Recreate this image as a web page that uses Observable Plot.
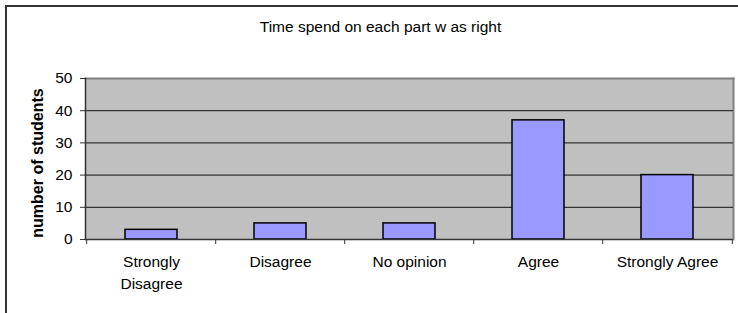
<!DOCTYPE html>
<html>
<head>
<meta charset="utf-8">
<script src="https://cdn.jsdelivr.net/npm/d3@7"></script>
<script src="https://cdn.jsdelivr.net/npm/@observablehq/plot@0.6"></script>
<style>
  html, body { margin: 0; padding: 0; background: #fff; overflow: hidden; }
  #wrap { position: relative; width: 738px; height: 313px; }
  #border { position: absolute; left: 5px; top: 5px; width: 800px; height: 400px; border: 2px solid #333; box-sizing: border-box; }
  #chart { position: absolute; left: 0; top: 0; }
</style>
</head>
<body>
<div id="wrap"><div id="border"></div><div id="chart"></div></div>
<script>
const title = "Time spend on each part w as right";
const yLabel = "number of students";
const categories = ["Strongly Disagree", "Disagree", "No opinion", "Agree", "Strongly Agree"];
const tickLabels = ["Strongly\nDisagree", "Disagree", "No opinion", "Agree", "Strongly Agree"];
const students = [3, 5, 5, 37, 20];
const yTicks = [0, 10, 20, 30, 40, 50];
const gridValues = [10, 20, 30, 40];

const data = categories.map((c, i) => ({category: c, students: students[i]}));
const labelOf = new Map(categories.map((c, i) => [c, tickLabels[i]]));

const W = 738, H = 313, mL = 85, mR = 5, mT = 78, mB = 74;
const step = (W - mL - mR) / categories.length;
const font = "'Liberation Sans', Arial, sans-serif";

const chart = Plot.plot({
  width: W, height: H,
  marginLeft: mL, marginRight: mR, marginTop: mT, marginBottom: mB,
  style: {fontFamily: font, fontSize: "15.5px", background: "transparent", overflow: "visible", color: "#000"},
  x: {domain: categories, paddingInner: 0.6, paddingOuter: 0.3, axis: null},
  y: {domain: [0, 50], axis: null},
  marks: [
    Plot.frame({fill: "#c0c0c0", stroke: "none"}),
    Plot.frame({anchor: "top", stroke: "#808080", strokeWidth: 2}),
    Plot.frame({anchor: "right", stroke: "#808080", strokeWidth: 2}),
    Plot.ruleY(gridValues, {stroke: "#111", strokeWidth: 1}),
    Plot.barY(data, {x: "category", y: "students", fill: "#9999ff", stroke: "#000", strokeWidth: 1.5}),
    Plot.frame({anchor: "left", stroke: "#333", strokeWidth: 1.5}),
    Plot.ruleY([0], {stroke: "#333", strokeWidth: 1.5}),
    Plot.axisY({ticks: yTicks, tickSize: 5, tickPadding: 8, label: null, stroke: "#333", fontSize: 15.5}),
    Plot.axisX({tickSize: 0, tickPadding: 12.5, label: null, lineHeight: 1.38, fontSize: 15.5, tickFormat: d => labelOf.get(d)}),
    Plot.ruleX(categories, {x: d => d, dx: -step / 2, y1: () => 0, y2: () => 0, insetBottom: -5, stroke: "#333"}),
    Plot.ruleX(categories.slice(-1), {x: d => d, dx: step / 2, y1: () => 0, y2: () => 0, insetBottom: -5, stroke: "#333"}),
    Plot.text([title], {frameAnchor: "top", dx: -29, dy: -51, lineAnchor: "middle", textAnchor: "middle", fontSize: 15.5}),
    Plot.text([yLabel], {frameAnchor: "left", rotate: -90, dx: -47.5, dy: 4, lineAnchor: "middle", textAnchor: "middle", fontWeight: "bold", fontSize: 16})
  ]
});
document.getElementById("chart").appendChild(chart);
</script>
</body>
</html>
